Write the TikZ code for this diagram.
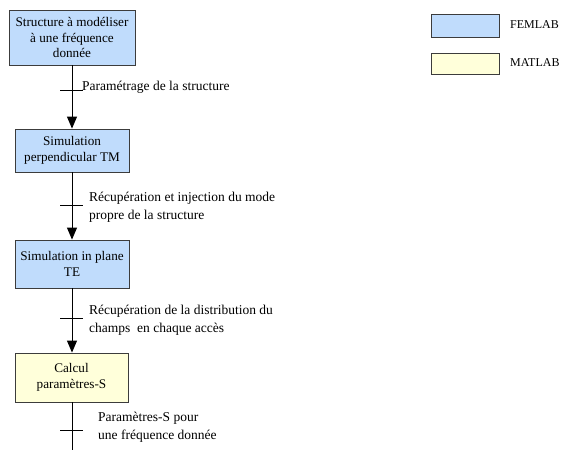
\documentclass[tikz,border=0pt]{standalone}
\usepackage{fontspec}
\setmainfont{Liberation Serif}
\usetikzlibrary{arrows.meta}
\definecolor{femblue}{RGB}{192,220,252}
\definecolor{matyel}{RGB}{255,255,218}
\definecolor{boxline}{RGB}{60,60,60}
\tikzset{
  procbox/.style={draw=boxline, line width=0.9pt, align=center, font=\fontsize{13.2}{15.5}\selectfont, inner sep=0pt},
  fembox/.style={procbox, fill=femblue},
  matbox/.style={procbox, fill=matyel},
  lbl/.style={anchor=west, align=left, font=\fontsize{13.5}{18}\selectfont, inner sep=0pt},
  flow/.style={line width=0.9pt, -{Triangle[width=10pt,length=12pt]}},
  plain/.style={line width=0.9pt},
  tick/.style={line width=0.8pt}
}
\begin{document}
\begin{tikzpicture}[x=1pt,y=-1pt]
\useasboundingbox (0,0) rectangle (561,450);
% boxes
\node[fembox, minimum width=126pt, minimum height=55pt] (b1) at (72,37.5) {Structure à modéliser\\à une fréquence\\donnée};
\node[fembox, minimum width=114pt, minimum height=43pt] (b2) at (72,150.5) {Simulation\\perpendicular TM};
\node[fembox, minimum width=114pt, minimum height=48pt] (b3) at (72,264) {Simulation in plane\\TE};
\node[matbox, minimum width=113pt, minimum height=49pt] (b4) at (71.5,377.5) {Calcul\\paramètres-S};
\coordinate (end) at (72,450);
% connectors
\draw[flow] (b1) -- (b2);
\draw[flow] (b2) -- (b3);
\draw[flow] (b3) -- (b4.north -| b3.south);
\draw[plain] (b4.south -| b3.south) -- (end);
% ticks
\coordinate (t1a) at (60,90); \coordinate (t1b) at (83,90);
\coordinate (t2a) at (60,205); \coordinate (t2b) at (83,205);
\coordinate (t3a) at (60,318); \coordinate (t3b) at (83,318);
\coordinate (t4a) at (60,430); \coordinate (t4b) at (83,430);
\draw[tick] (t1a) -- (t1b);
\draw[tick] (t2a) -- (t2b);
\draw[tick] (t3a) -- (t3b);
\draw[tick] (t4a) -- (t4b);
% labels
\node[lbl] (l1) at (82,87) {Paramétrage de la structure};
\node[lbl] (l2) at (89,207) {Récupération et injection du mode\\propre de la structure};
\node[lbl] (l3) at (89,320) {Récupération de la distribution du\\champs~ en chaque accès};
\node[lbl] (l4) at (98,427) {Paramètres-S pour\\une fréquence donnée};
% legend
\node[fembox, minimum width=68pt, minimum height=23pt] (lf) at (465,25.5) {};
\node[matbox, minimum width=68pt, minimum height=21pt] (lm) at (465,63.5) {};
\node[lbl, font=\fontsize{12}{14}\selectfont] (tf) at (510,25) {FEMLAB};
\node[lbl, font=\fontsize{12}{14}\selectfont] (tm) at (510,63) {MATLAB};
\end{tikzpicture}
\end{document}
